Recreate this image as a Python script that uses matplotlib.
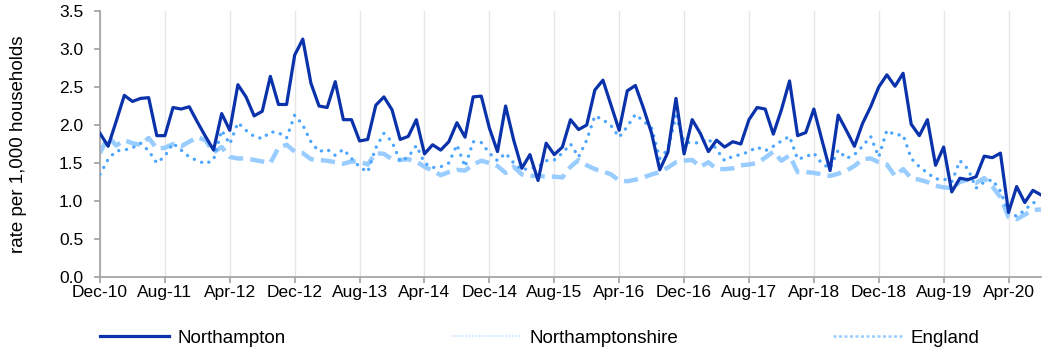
import numpy as np
import matplotlib.pyplot as plt
from matplotlib.lines import Line2D

plt.rcParams['font.family'] = ['Liberation Sans', 'DejaVu Sans']

# monthly rates, Dec-10 .. Aug-20
northampton = [
    1.89, 1.72, 2.05, 2.39, 2.31, 2.35, 2.36, 1.86, 1.86, 2.23, 2.21, 2.24,
    2.04, 1.85, 1.67, 2.15, 1.93, 2.53, 2.37, 2.12, 2.18, 2.64, 2.27, 2.27,
    2.92, 3.13, 2.55, 2.25, 2.23, 2.57, 2.07, 2.07, 1.79, 1.81, 2.26, 2.37,
    2.20, 1.81, 1.85, 2.07, 1.62, 1.74, 1.67, 1.78, 2.03, 1.84, 2.37, 2.38,
    1.96, 1.65, 2.25, 1.80, 1.43, 1.61, 1.27, 1.76, 1.61, 1.71, 2.07, 1.94,
    2.00, 2.46, 2.59, 2.26, 1.93, 2.45, 2.52, 2.22, 1.89, 1.41, 1.64, 2.35,
    1.62, 2.07, 1.89, 1.65, 1.80, 1.71, 1.78, 1.75, 2.07, 2.23, 2.21, 1.88,
    2.20, 2.58, 1.86, 1.90, 2.21, 1.80, 1.40, 2.13, 1.93, 1.72, 2.02, 2.24,
    2.50, 2.66, 2.51, 2.68, 2.01, 1.86, 2.07, 1.47, 1.71, 1.12, 1.30, 1.28,
    1.32, 1.59, 1.57, 1.63, 0.85, 1.19, 0.98, 1.14, 1.08,
]
northamptonshire = [
    1.35, 1.55, 1.66, 1.67, 1.70, 1.76, 1.66, 1.50, 1.59, 1.76, 1.67, 1.58,
    1.53, 1.49, 1.54, 1.93, 1.75, 2.03, 1.93, 1.85, 1.82, 1.91, 1.90, 1.83,
    2.13, 2.00, 1.78, 1.65, 1.68, 1.60, 1.68, 1.56, 1.45, 1.38, 1.70, 1.89,
    1.78, 1.52, 1.58, 1.73, 1.50, 1.44, 1.45, 1.50, 1.74, 1.45, 1.78, 1.77,
    1.63, 1.53, 1.63, 1.50, 1.41, 1.43, 1.45, 1.53, 1.54, 1.63, 1.75, 1.58,
    1.80, 2.12, 2.07, 1.99, 1.84, 1.98, 2.14, 2.05, 1.96, 1.56, 1.68, 2.12,
    1.78, 1.76, 1.77, 1.82, 1.68, 1.53, 1.59, 1.61, 1.65, 1.71, 1.66, 1.72,
    1.79, 1.85, 1.55, 1.58, 1.63, 1.49, 1.43, 1.67, 1.56, 1.61, 1.72, 1.85,
    1.58, 1.93, 1.87, 1.87, 1.56, 1.45, 1.37, 1.29, 1.29, 1.25, 1.53, 1.42,
    1.17, 1.25, 1.28, 1.13, 0.85, 0.80, 0.88, 0.98, 0.97,
]
england = [
    1.63, 1.85, 1.73, 1.80, 1.76, 1.74, 1.83, 1.69, 1.70, 1.75, 1.72, 1.78,
    1.84, 1.80, 1.64, 1.71, 1.58, 1.56, 1.56, 1.54, 1.52, 1.50, 1.70, 1.74,
    1.65, 1.63, 1.55, 1.54, 1.53, 1.51, 1.49, 1.52, 1.52, 1.48, 1.63, 1.62,
    1.55, 1.54, 1.55, 1.52, 1.45, 1.40, 1.34, 1.38, 1.41, 1.40, 1.48, 1.53,
    1.50, 1.46, 1.37, 1.45, 1.35, 1.33, 1.33, 1.32, 1.32, 1.31, 1.45, 1.54,
    1.47, 1.42, 1.39, 1.35, 1.27, 1.26, 1.28, 1.31, 1.35, 1.38, 1.44, 1.51,
    1.53, 1.54, 1.45, 1.51, 1.42, 1.42, 1.43, 1.47, 1.48, 1.50, 1.57, 1.65,
    1.53, 1.60, 1.38, 1.38, 1.37, 1.35, 1.33, 1.36, 1.40, 1.46, 1.55, 1.56,
    1.51, 1.48, 1.33, 1.42, 1.30, 1.28, 1.25, 1.20, 1.18, 1.17, 1.25, 1.28,
    1.24, 1.30, 1.19, 1.05, 0.79, 0.76, 0.82, 0.88, 0.89,
]
tick_labels = ['Dec-10', 'Aug-11', 'Apr-12', 'Dec-12', 'Aug-13', 'Apr-14', 'Dec-14',
               'Aug-15', 'Apr-16', 'Dec-16', 'Aug-17', 'Apr-18', 'Dec-18', 'Aug-19',
               'Apr-20']
series_names = ['Northampton', 'Northamptonshire', 'England']

c_town = '#0a32aa'
c_county = '#4da6ff'
c_eng = '#99ccff'
grey = '#a6a6a6'

W, H = 1055, 355
x = np.arange(len(northampton))

fig = plt.figure(figsize=(W / 100, H / 100), dpi=100)
ax = fig.add_axes([100 / W, 1 - 277 / H, 941 / W, 266 / H])

ax.plot(x, england, color=c_eng, lw=3.2, dashes=(3.2, 1.6), zorder=2)
ax.plot(x, northamptonshire, color=c_county, lw=2.4, dashes=(0.05, 2.3),
        dash_capstyle='round', zorder=3)
ax.plot(x, northampton, color=c_town, lw=2.3, zorder=4)

ax.set_xlim(0, len(northampton) - 1)
ax.set_ylim(0, 3.5)
ax.set_yticks(np.arange(0, 3.51, 0.5))
ax.set_yticklabels([f'{v:.1f}' for v in np.arange(0, 3.51, 0.5)])
ax.set_xticks(np.arange(0, 8 * len(tick_labels), 8))
ax.set_xticklabels(tick_labels)
ax.grid(axis='x', color='#e6e6e6', lw=1.0)
ax.set_axisbelow(True)

for s in ['top', 'right']:
    ax.spines[s].set_visible(False)
for s in ['left', 'bottom']:
    ax.spines[s].set_color(grey)
    ax.spines[s].set_linewidth(1.3)
ax.tick_params(axis='both', colors=grey, length=4, width=1.3, labelsize=12.5,
               labelcolor='black')
ax.tick_params(axis='x', pad=2)
ax.tick_params(axis='y', pad=8)
ax.set_ylabel('rate per 1,000 households', fontsize=13.5)
ax.yaxis.set_label_coords(-(100 - 27) / 941, 0.5)

# one legend per entry so each sits at its own spot along the bottom
handles = [
    Line2D([], [], color=c_town, lw=2.3),
    Line2D([], [], color='#cfe6ff', lw=1.5, dashes=(0.8, 0.8)),
    Line2D([], [], color=c_eng, lw=1.8, dashes=(1.2, 1.0)),
]
starts = [100, 452, 833]
for h, name, x0 in zip(handles, series_names, starts):
    fig.legend([h], [name], loc='center left', bbox_to_anchor=(x0 / W, 1 - 338 / H),
               frameon=False, fontsize=13.5, handlelength=3.7, handletextpad=0.45,
               borderpad=0, borderaxespad=0)

fig.savefig('out.png', dpi=100)
